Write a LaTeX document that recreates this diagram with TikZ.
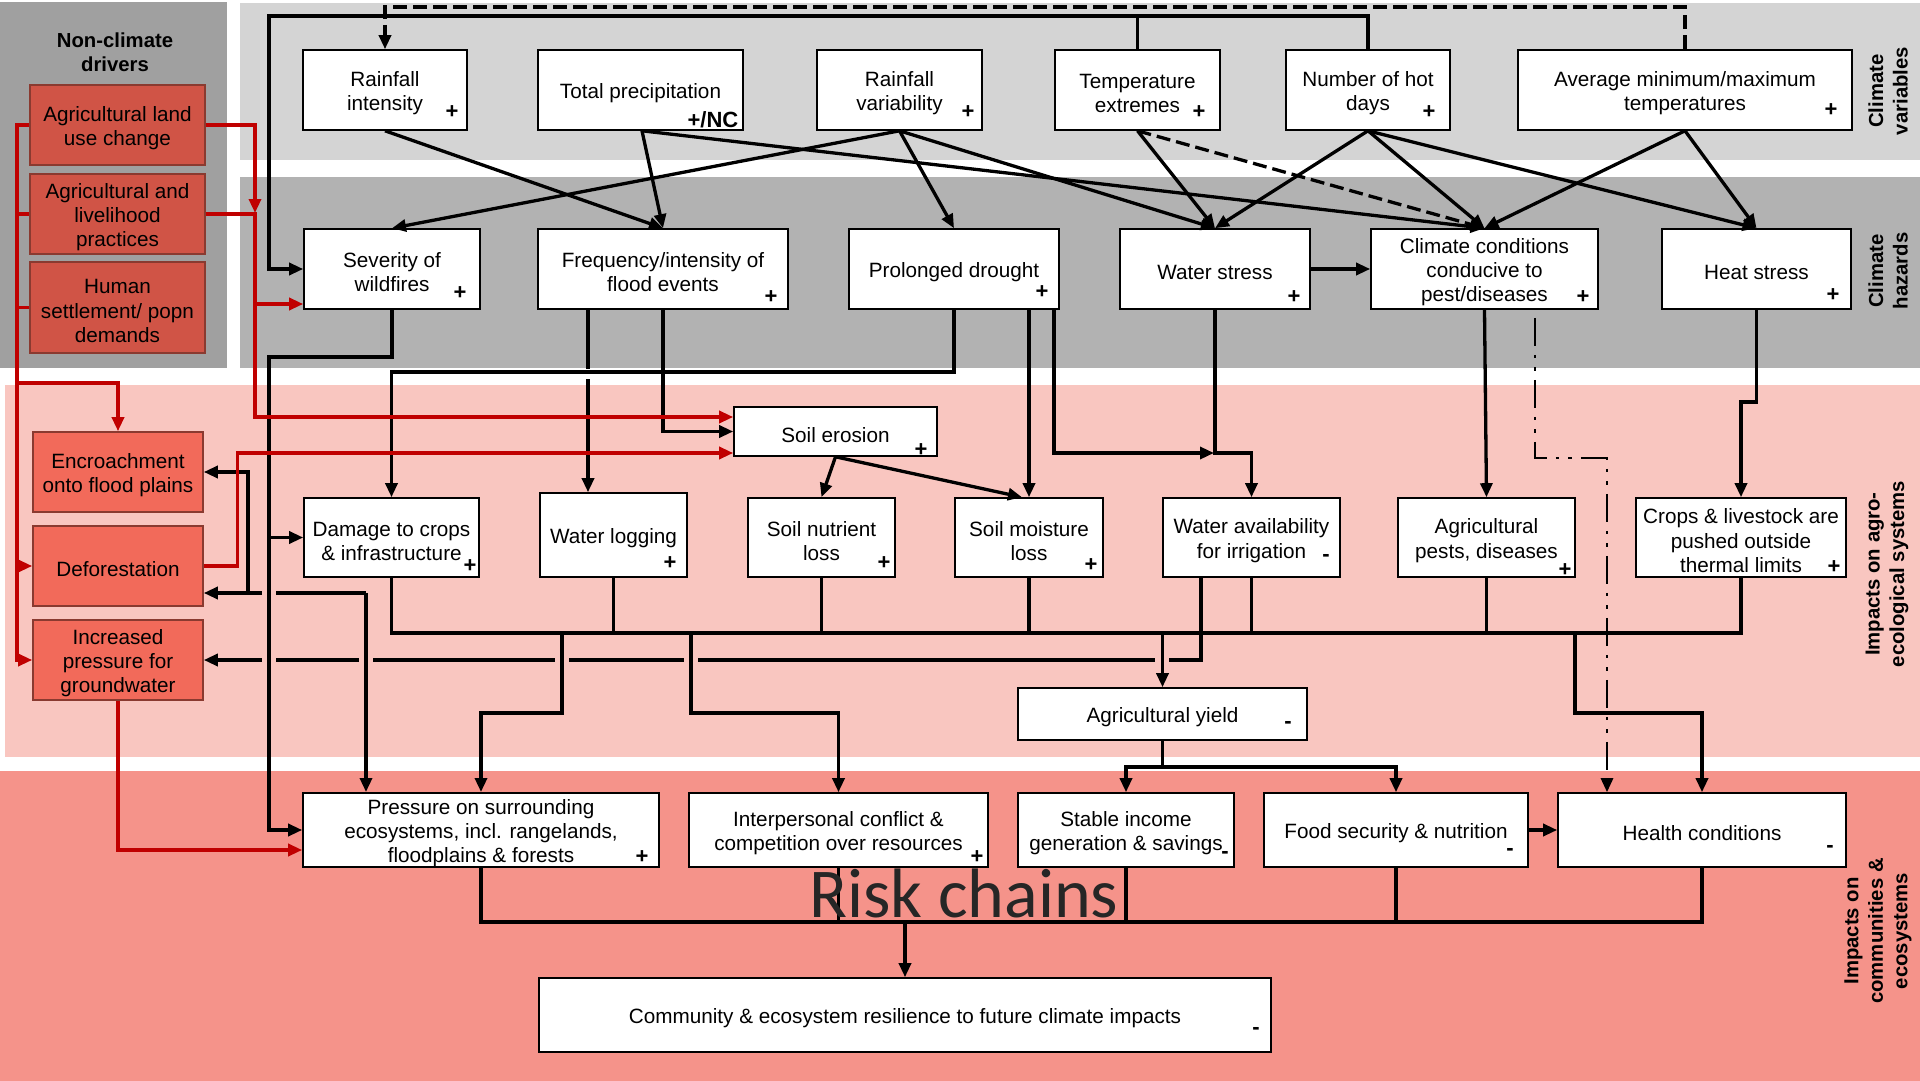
\documentclass[tikz,border=0pt]{standalone}
\usepackage{fontspec}
\setmainfont{Liberation Sans}
\newfontfamily\riskfont{Carlito}
\usetikzlibrary{arrows.meta}
\definecolor{ncgrey}{HTML}{A0A0A0}
\definecolor{cvgrey}{HTML}{D4D4D4}
\definecolor{chgrey}{HTML}{B2B2B2}
\definecolor{agpink}{HTML}{F9C6C0}
\definecolor{cosalmon}{HTML}{F5938A}
\definecolor{drvdark}{HTML}{D05446}
\definecolor{drvlight}{HTML}{F26A5A}
\definecolor{drvedge}{HTML}{8A3A30}
\definecolor{redline}{HTML}{C00000}
\definecolor{risktext}{HTML}{262626}
\newcommand{\bx}[7]{%
  \pgfmathsetmacro\bxw{#5-#3}\pgfmathsetmacro\bxh{#6-#4}%
  \pgfmathsetmacro\bxx{(#3+#5)/2}\pgfmathsetmacro\bxy{(#4+#6)/2}%
  \node[#2, minimum width=\bxw pt, minimum height=\bxh pt] (#1) at (\bxx,\bxy) {\rule{0pt}{21.5pt}#7};}
\begin{document}
\begin{tikzpicture}[x=1pt,y=-1pt,
  box/.style={draw=black, fill=white, line width=1.6pt, inner sep=0pt, align=center, font=\fontsize{20.7}{24.3}\selectfont},
  drv/.style={box, draw=drvedge, fill=drvdark},
  drvl/.style={box, draw=drvedge, fill=drvlight},
  sgn/.style={inner sep=0pt, font=\fontsize{22}{22}\selectfont\bfseries},
  lbl/.style={inner sep=0pt, align=center, font=\fontsize{20.3}{24.5}\selectfont\bfseries},
  ln/.style={draw=black, line width=3.3pt},
  arr/.style={ln, -{Triangle[length=14pt,width=12pt]}},
  dsh/.style={dash pattern=on 14pt off 6pt},
  ddot/.style={line width=2.8pt, dash pattern=on 28pt off 9pt on 3.5pt off 9pt on 3.5pt off 9pt},
  rln/.style={draw=redline, line width=3.3pt},
  rarr/.style={rln, -{Triangle[length=14pt,width=12pt]}},
]
\useasboundingbox (0,0) rectangle (1920,1081);
\fill[white] (0,0) rectangle (1920,1081);
% bands
\fill[ncgrey] (0,2) rectangle (227,368);
\fill[cvgrey] (240,3) rectangle (1920,160);
\fill[chgrey] (240,177) rectangle (1920,368);
\fill[agpink] (5,385) rectangle (1920,757);
\fill[cosalmon] (0,771) rectangle (1920,1081);

% labels
\node[lbl] (tncd) at (115,52) {Non-climate\\drivers};
\node[lbl, rotate=90] (tcv) at (1888,91) {Climate\\variables};
\node[lbl, rotate=90] (tch) at (1888,271) {Climate\\hazards};
\node[lbl, rotate=90] (tia) at (1887,574) {Impacts on agro-\\ecological systems};
\node[lbl, rotate=90] (tic) at (1878,931) {Impacts on\\communities \&\\ecosystems};

% driver boxes
\bx{alu}{drv}{30}{85}{205}{165}{Agricultural land\\use change}
\bx{alp}{drv}{30}{174}{205}{254}{Agricultural and\\livelihood\\practices}
\bx{hs}{drv}{30}{262}{205}{353}{Human\\settlement/ popn\\demands}
\bx{enc}{drvl}{33}{432}{203}{512}{Encroachment\\onto flood plains}
\bx{def}{drvl}{33}{526}{203}{606}{Deforestation}
\bx{igw}{drvl}{33}{620}{203}{700}{Increased\\pressure for\\groundwater}

% climate variables
\bx{ri}{box}{303}{50}{467}{130}{Rainfall\\intensity}
\bx{tp}{box}{538}{50}{743}{130}{Total precipitation}
\bx{rv}{box}{817}{50}{982}{130}{Rainfall\\variability}
\bx{te}{box}{1055}{50}{1220}{130}{Temperature\\extremes}
\bx{nhd}{box}{1286}{50}{1450}{130}{Number of hot\\days}
\bx{amm}{box}{1518}{50}{1852}{130}{Average minimum/maximum\\temperatures}

% climate hazards
\bx{sw}{box}{304}{229}{480}{309}{Severity of\\wildfires}
\bx{ff}{box}{538}{229}{788}{309}{Frequency/intensity of\\flood events}
\bx{pd}{box}{849}{229}{1059}{309}{Prolonged drought}
\bx{ws}{box}{1120}{229}{1310}{309}{Water stress}
\bx{cc}{box}{1371}{229}{1598}{309}{Climate conditions\\conducive to\\pest/diseases}
\bx{hts}{box}{1662}{229}{1851}{309}{Heat stress}

% agro-ecological impacts
\bx{se}{box}{734}{407}{937}{456}{Soil erosion}
\bx{dc}{box}{304}{498}{479}{577}{Damage to crops\\\& infrastructure}
\bx{wl}{box}{540}{493}{687}{577}{Water logging}
\bx{snl}{box}{748}{498}{895}{577}{Soil nutrient\\loss}
\bx{sml}{box}{955}{498}{1103}{577}{Soil moisture\\loss}
\bx{wa}{box}{1163}{498}{1340}{577}{Water availability\\for irrigation}
\bx{ap}{box}{1398}{498}{1575}{577}{Agricultural\\pests, diseases}
\bx{cl}{box}{1636}{498}{1846}{577}{Crops \& livestock are\\pushed outside\\thermal limits}
\bx{ay}{box}{1018}{688}{1307}{740}{Agricultural yield}

% community impacts
\bx{pr}{box}{303}{793}{659}{867}{Pressure on surrounding\\ecosystems, incl. rangelands,\\floodplains \& forests}
\bx{ic}{box}{689}{793}{988}{867}{Interpersonal conflict \&\\competition over resources}
\bx{si}{box}{1018}{793}{1234}{867}{Stable income\\generation \& savings}
\bx{fs}{box}{1264}{793}{1528}{867}{Food security \& nutrition}
\bx{hc}{box}{1558}{793}{1846}{867}{Health conditions}
\bx{cr}{box}{539}{978}{1271}{1052}{Community \& ecosystem resilience to future climate impacts}

% signs
\node[sgn] (s1) at (452,112) {+};
\node[sgn] (s2) at (713,120) {+/NC};
\node[sgn] (s3) at (968,112) {+};
\node[sgn] (s4) at (1199,112) {+};
\node[sgn] (s5) at (1429,112) {+};
\node[sgn] (s6) at (1831,110) {+};
\node[sgn] (s7) at (460,293) {+};
\node[sgn] (s8) at (771,297) {+};
\node[sgn] (s9) at (1042,292) {+};
\node[sgn] (s10) at (1294,297) {+};
\node[sgn] (s11) at (1583,297) {+};
\node[sgn] (s12) at (1833,295) {+};
\node[sgn] (s13) at (921,450) {+};
\node[sgn] (s14) at (470,566) {+};
\node[sgn] (s15) at (670,563) {+};
\node[sgn] (s16) at (884,563) {+};
\node[sgn] (s17) at (1091,565) {+};
\node[sgn] (s18) at (1326,558) {-};
\node[sgn] (s19) at (1565,570) {+};
\node[sgn] (s20) at (1834,567) {+};
\node[sgn] (s21) at (1288,725) {-};
\node[sgn] (s22) at (642,857) {+};
\node[sgn] (s23) at (977,857) {+};
\node[sgn] (s24) at (1225,855) {-};
\node[sgn] (s25) at (1510,852) {-};
\node[sgn] (s26) at (1830,849) {-};
\node[sgn] (s27) at (1256,1031) {-};

% ---- connectors with gaps first ----
% water availability -> increased pressure for groundwater
\draw[arr] ([xshift=-50.5pt]wa.south) |- (igw.east);
\foreach \gx in {269,366,562,691,1162} {\fill[agpink] (\gx-7,655) rectangle (\gx+7,665);}
% pressure / encroachment / deforestation
\coordinate (jd) at (366,593);
\coordinate (je) at (248,593);
\draw[arr] (jd) -- ([xshift=-115pt]pr.north);
\draw[arr] (jd) -- ([yshift=-27pt]def.east);
\draw[arr] (je) |- (enc.east);
\fill[agpink] (262,588) rectangle (276,598);
% flood -> water logging (gap at drought line)
\draw[arr] ([xshift=-75pt]ff.south) -- ([xshift=-25.5pt]wl.north);
\fill[white] (581,368.5) rectangle (595,378.5);

% ---- climate variables -> hazards ----
\draw[arr] (ri.south) -- (ff.north);
\coordinate (tpo) at ([xshift=1.5pt]tp.south);
\draw[arr] (tpo) -- (ff.north);
\draw[arr] (tpo) -- (cc.north);
\draw[arr] (rv.south) -- (sw.north);
\draw[arr] (rv.south) -- (pd.north);
\draw[arr] (rv.south) -- (ws.north);
\draw[arr] (te.south) -- (ws.north);
\draw[arr, dsh] (te.south) -- (cc.north);
\draw[arr] (nhd.south) -- (ws.north);
\draw[arr] (nhd.south) -- (cc.north);
\draw[arr] (nhd.south) -- (hts.north);
\draw[arr] (amm.south) -- (cc.north);
\draw[arr] (amm.south) -- (hts.north);
\draw[arr] (ws.east) -- (cc.west);
% top feedback lines
\draw[arr] (nhd.north) |- (269,16) |- (sw.west);
\draw[ln] (te.north) -- (1137.5,16);
\draw[arr, dsh] (amm.north) |- (385,7) -- (ri.north);

% ---- hazards -> impacts ----
\draw[arr] (sw.south) |- (269,357) |- (pr.west);
\draw[arr] (269,537.5) -- (dc.west);
\draw[arr] (ff.south) |- (se.west);
\draw[arr] (pd.south) |- (391.5,372) -- (dc.north);
\draw[arr] (sml.north |- pd.south) -- (sml.north);
\draw[arr] ([xshift=100pt]pd.south) |- (1214,453);
\draw[arr] (ws.south) -- (1215,453) -| (wa.north);
\draw[arr] (cc.south) -- (ap.north);
\draw[arr, ddot] ([xshift=50.5pt,yshift=-8pt]cc.south) |- (1607,458) -- ([xshift=-95pt]hc.north);
\draw[arr] (hts.south) |- (1741,402) -- (cl.north);
\draw[arr] (se.south) -- (snl.north);
\draw[arr] (se.south) -- ([xshift=-7pt]sml.north);

% ---- aggregator of agro-ecological impacts ----
\coordinate (agg) at (0,633);
\draw[ln] (dc.south) -- (dc.south |- agg) -| (cl.south);
\foreach \n in {wl,snl,sml,wa,ap} {\draw[ln] (\n.south) -- (\n.south |- agg);}
\draw[arr] (562,633) -- (562,713) -| (pr.north);
\draw[arr] (691,633) -- (691,713) -| (ic.north);
\draw[arr] (ay.north |- agg) -- (ay.north);
\draw[arr] (1575,633) -- (1575,713) -| (hc.north);
\draw[arr] (ay.south) -- (1162.5,767) -| (si.north);
\draw[arr] (1162.5,767) -| (fs.north);

% ---- community aggregator ----
\coordinate (bagg) at (0,922);
\draw[ln] (pr.south) -- (pr.south |- bagg) -| (hc.south);
\foreach \n in {ic,si,fs} {\draw[ln] (\n.south) -- (\n.south |- bagg);}
\draw[arr] (cr.north |- bagg) -- (cr.north);
\draw[arr] (fs.east) -- (hc.west);

% ---- non-climate drivers (red) ----
\draw[rarr] (alu.east) -| (255,213);
\draw[rarr] (alp.east) -| (255,304) -- ([yshift=-35pt]sw.west);
\draw[rarr] (255,300) |- ([yshift=14.5pt]se.west);
\draw[rarr] (alu.west) -| (17,660) -- (igw.west);
\draw[rln] (alp.west) -- (17,214);
\draw[rln] (hs.west) -- (17,307.5);
\draw[rarr] (17,383) -| (enc.north);
\draw[rarr] (17,566) -- (def.west);
\draw[rarr] (def.east) -| (237.5,453) -- ([yshift=-21.5pt]se.west);
\draw[rarr] (igw.south) |- ([yshift=-20pt]pr.west);

% big title
\node[anchor=base west, inner sep=0pt, text=risktext, font=\riskfont\fontsize{70}{70}\selectfont] (risk) at (809,917) {Risk chains};
\end{tikzpicture}
\end{document}
